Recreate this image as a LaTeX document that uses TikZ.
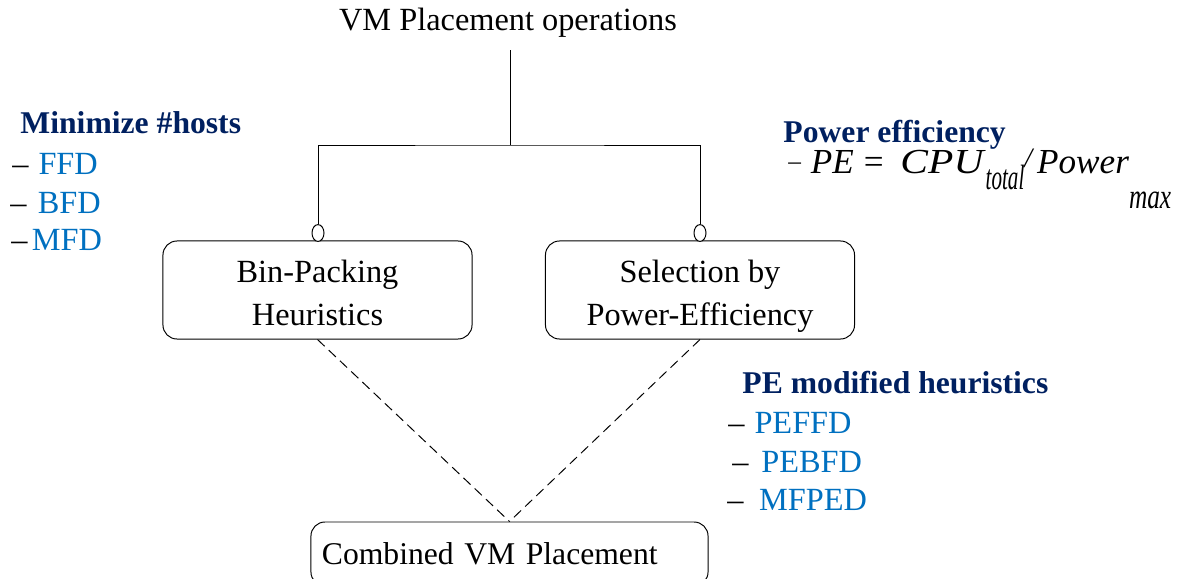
\documentclass[tikz,border=0pt]{standalone}
\usepackage{fontspec}
\setmainfont{Liberation Serif}
\usepackage{xcolor}
\usetikzlibrary{shapes.geometric}
\usetikzlibrary{positioning}
\definecolor{navy}{RGB}{0,32,96}
\definecolor{itemblue}{RGB}{0,112,192}

\begin{document}
\begin{tikzpicture}[x=0.025cm, y=-0.025cm, line width=0.7pt,
    every node/.style={font=\fontsize{23}{31}\selectfont, inner sep=0pt},
    box/.style={rectangle, draw, rounded corners=10pt, minimum width=7.725cm, minimum height=2.45cm, align=center},
    knob/.style={ellipse, draw, fill=white, minimum width=0.3cm, minimum height=0.42cm},
    heading/.style={anchor=base west, font=\fontsize{22.5}{27}\selectfont\bfseries, text=navy},
    item/.style={anchor=base west},
    link/.style={dash pattern=on 7pt off 4pt},
  ]

  \useasboundingbox (0,0) rectangle (1180,579);

  \node[anchor=base] (title) at (508,30) {VM Placement operations};
  \coordinate (stem) at (510,50);
  \coordinate (split) at (510,145);

  \node[box] (binpack)  at (317.5,290) {\rule{0pt}{25pt}Bin-Packing\\Heuristics\vphantom{y}};
  \node[box] (powereff) at (700,290)   {\rule{0pt}{25pt}Selection by\\Power-Efficiency};
  \node[box, minimum width=9.925cm, minimum height=1.6cm, inner xsep=0.275cm,
        text width=9.375cm, align=left, font=\fontsize{22.5}{31}\selectfont] (combined) at (509.5,554) {Combined VM Placement};

  \node[knob] (lknob) at (318,233) {};
  \node[knob] (rknob) at (700,233) {};

  \draw (stem) -- (split);
  \draw (lknob) |- (split) -| (rknob);
  \draw[link] (binpack.south) -- (combined.north);
  \draw[link] (powereff.south) -- (combined.north);

  \node[heading] (minhosts) at (20,133) {Minimize \#hosts};
  \node[item] (ffd) at (12,174) {–\hspace{7pt}\textcolor{itemblue}{FFD}};
  \node[item] (bfd) at (10,213) {–\hspace{8pt}\textcolor{itemblue}{BFD}};
  \node[item] (mfd) at (11,250) {–\hspace{3pt}\textcolor{itemblue}{MFD}};

  \node[heading] (powerhead) at (783,142) {Power efficiency};
  \node[item] (peformula) at (788,173) {\fontsize{25}{29}\selectfont
    \raisebox{2.5pt}{\fontsize{18}{22}\selectfont –}\hspace{7pt}%
    \textit{PE}\hspace{7pt}=\hspace{12pt}%
    \scalebox{1.18}[1]{\textit{CPU}}%
    \raisebox{-11.5pt}{\scalebox{0.6}[1]{\textit{total}}}%
    \raisebox{4pt}{\fontsize{20}{24}\selectfont\textit{/}}\hspace{2pt}%
    \textit{Power}%
    \raisebox{-25pt}{\scalebox{0.72}[1]{\textit{max}}}};

  \node[heading] (pehead) at (742,393) {PE modified heuristics};
  \node[item] (peffd) at (728,433) {–\hspace{7pt}\textcolor{itemblue}{PEFFD}};
  \node[item] (pebfd) at (732,472) {–\hspace{9pt}\textcolor{itemblue}{PEBFD}};
  \node[item] (mfped) at (727,510) {–\hspace{11pt}\textcolor{itemblue}{MFPED}};

\end{tikzpicture}
\end{document}
